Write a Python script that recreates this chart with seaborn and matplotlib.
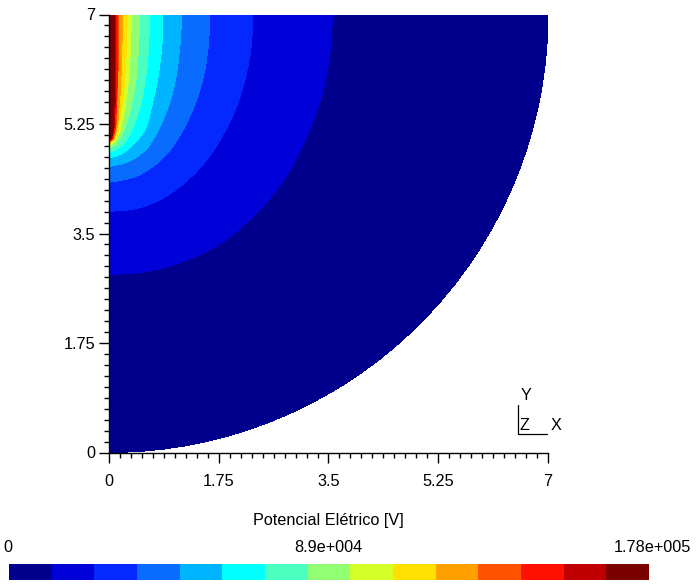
import numpy as np
import matplotlib
matplotlib.use("Agg")
import matplotlib.pyplot as plt
from matplotlib.colors import ListedColormap
from matplotlib.lines import Line2D
from matplotlib.patches import Wedge, PathPatch
from matplotlib.path import Path
from matplotlib.ticker import MultipleLocator
import seaborn as sns

# Band colours, low to high
BAND_COLORS = ["#00008c", "#0000d8", "#0528ff", "#0a6cff", "#00b4ff",
               "#00ffff", "#4affc0", "#90ff74", "#d6ff28", "#ffe000",
               "#ffa000", "#ff5300", "#ff1000", "#c00000", "#7a0000"]

DOMAIN_RADIUS = 7.0
TICKS = [0, 1.75, 3.5, 5.25, 7]
TICK_LABELS = ["0", "1.75", "3.5", "5.25", "7"]
CBAR_LABELS = ["0", "8.9e+004", "1.78e+005"]
XLABEL = "Potencial Elétrico [V]"

# Contour boundaries (x, y), outermost first
b1_x = [3.562, 3.55, 3.49, 3.37, 3.19, 3.02, 2.78, 2.51, 2.2, 1.85, 1.478, 1.0, .521, 0]
b1_y = [7.0, 6.69, 6.16, 5.63, 5.146, 4.77, 4.347, 4.0, 3.68, 3.39, 3.175, 2.99, 2.88, 2.845]
b2_x = [2.291, 2.27, 2.19, 2.03, 1.855, 1.67, 1.46, 1.159, .84, .468, 0]
b2_y = [7.0, 6.53, 6.05, 5.52, 5.146, 4.83, 4.56, 4.27, 4.054, 3.905, 3.852]
b3_x = [1.606, 1.59, 1.515, 1.385, 1.175, 1.01, .787, .468, .2, 0]
b3_y = [7.0, 6.585, 6.05, 5.6, 5.146, 4.88, 4.64, 4.43, 4.35, 4.32]
b4_x = [1.159, 1.138, 1.075, .98, .78, .62, .468, .255, 0]
b4_y = [7.0, 6.585, 6.05, 5.63, 5.146, 4.88, 4.74, 4.63, 4.57]
b5_x = [.861, .845, .78, .69, .564, .468, .308, .149, 0]
b5_y = [7.0, 6.53, 6.0, 5.57, 5.146, 5.01, 4.85, 4.75, 4.71]
b6_x = [.649, .633, .585, .50, .36, .255, .122, 0]
b6_y = [7.0, 6.53, 6.0, 5.55, 5.146, 4.96, 4.85, 4.80]
b7_x = [.489, .468, .41, .32, .213, .09, 0]
b7_y = [7.0, 6.42, 5.84, 5.41, 5.09, 4.91, 4.865]
b8_x = [.356, .34, .292, .223, .144, .064, 0]
b8_y = [7.0, 6.42, 5.79, 5.36, 5.07, 4.94, 4.907]
b9_x = [.292, .276, .223, .17, .106, 0]
b9_y = [7.0, 6.42, 5.68, 5.31, 5.04, 4.93]
b10_x = [.213, .197, .16, .117, .064, 0]
b10_y = [7.0, 6.16, 5.52, 5.15, 5.0, 4.955]
b11_x = [.154, .145, .12, .09, .04, 0]
b11_y = [7.0, 6.16, 5.5, 5.12, 4.99, 4.97]
b12_x = [.138, .135, .115, .085, .04, 0]
b12_y = [7.0, 6.2, 5.5, 5.13, 5.0, 4.98]
b13_x = [.106, .10, .09, .06, .02, 0]
b13_y = [7.0, 6.0, 5.4, 5.1, 5.0, 4.995]
b14_x = [.08, .08, .07, .05, .02, 0]
b14_y = [7.0, 6.0, 5.3, 5.08, 5.02, 5.01]

BOUNDARIES = [(b1_x, b1_y), (b2_x, b2_y), (b3_x, b3_y), (b4_x, b4_y),
              (b5_x, b5_y), (b6_x, b6_y), (b7_x, b7_y), (b8_x, b8_y),
              (b9_x, b9_y), (b10_x, b10_y), (b11_x, b11_y), (b12_x, b12_y),
              (b13_x, b13_y), (b14_x, b14_y)]


def band_path(bx, by):
    """Closed region: smooth Bezier through the read points, then the corner (0, 7)."""
    pts = np.column_stack([bx, by])
    t = np.concatenate([[0], np.cumsum(np.hypot(*np.diff(pts, axis=0).T))])
    d = np.gradient(pts, t, axis=0)
    verts = [pts[0]]
    codes = [Path.MOVETO]
    for i in range(len(pts) - 1):
        h = (t[i + 1] - t[i]) / 3
        verts += [pts[i] + d[i] * h, pts[i + 1] - d[i + 1] * h, pts[i + 1]]
        codes += [Path.CURVE4] * 3
    verts += [np.array([0.0, 7.0]), pts[0]]
    codes += [Path.LINETO, Path.CLOSEPOLY]
    return Path(np.array(verts), codes)


sns.set_theme(style="ticks")
plt.rcParams["font.family"] = ["Liberation Sans", "DejaVu Sans"]
FS = 11.7
W, H = 696, 587
palette = sns.color_palette(BAND_COLORS)

fig = plt.figure(figsize=(W / 100, H / 100), dpi=100, facecolor="white")
ax = fig.add_axes([109 / W, (H - 452.5) / H, 439 / W, 438 / H])

ax.add_patch(Wedge((0, 7), DOMAIN_RADIUS, -90, 0, facecolor=palette[0],
                   edgecolor="none", antialiased=False))
for (bx, by), col in zip(BOUNDARIES, palette[1:]):
    ax.add_patch(PathPatch(band_path(bx, by), facecolor=col, edgecolor="none",
                           antialiased=False))

ax.set_xlim(0, 7)
ax.set_ylim(0, 7)
ax.set_xticks(TICKS, TICK_LABELS)
ax.set_yticks(TICKS, TICK_LABELS)
ax.xaxis.set_minor_locator(MultipleLocator(0.175))
ax.yaxis.set_minor_locator(MultipleLocator(0.175))
ax.tick_params(which="major", length=7, width=1, color="black", labelsize=FS,
               labelcolor="black")
ax.tick_params(axis="x", which="major", pad=8.5)
ax.tick_params(axis="y", which="major", pad=3)
ax.tick_params(which="minor", length=3.6, width=1, color="black")
sns.despine(ax=ax, top=True, right=True)
for side in ("left", "bottom"):
    ax.spines[side].set_color("black")
    ax.spines[side].set_linewidth(1)
ax.set_axisbelow(False)

# Orientation triad
fig.add_artist(Line2D([517.5 / W, 517.5 / W], [1 - 405 / H, 1 - 434 / H], color="black", lw=0.9))
fig.add_artist(Line2D([517.5 / W, 547 / W], [1 - 434 / H, 1 - 434 / H], color="black", lw=0.9))
for label, px, py in [("Y", 526, 396), ("Z", 524, 426), ("X", 556, 426)]:
    fig.text(px / W, 1 - py / H, label, ha="center", va="center", fontsize=FS, color="black")

fig.text(328 / W, 1 - 521 / H, XLABEL, ha="center", va="center", fontsize=FS, color="black")

# Colour bar
cax = fig.add_axes([9 / W, (H - 579.5) / H, 640 / W, 16 / H])
sns.heatmap(np.arange(len(BAND_COLORS)).reshape(1, -1), ax=cax, cbar=False,
            cmap=ListedColormap(BAND_COLORS), xticklabels=False, yticklabels=False,
            linewidths=0)
fig.text(8 / W, 1 - 547 / H, CBAR_LABELS[0], ha="center", va="center", fontsize=FS, color="black")
fig.text(328 / W, 1 - 547 / H, CBAR_LABELS[1], ha="center", va="center", fontsize=FS, color="black")
fig.text(691 / W, 1 - 547 / H, CBAR_LABELS[2], ha="right", va="center", fontsize=FS, color="black")

fig.savefig("out.png", dpi=100, facecolor="white")
